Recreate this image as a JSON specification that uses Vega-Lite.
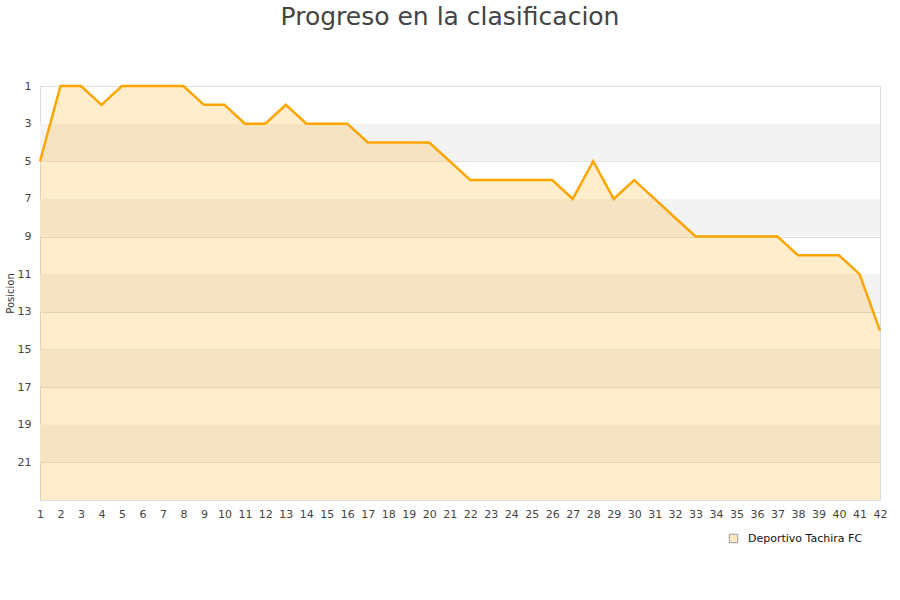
{
  "$schema": "https://vega.github.io/schema/vega-lite/v6.json",
  "autosize": {"type": "none"},
  "width": 840,
  "height": 414,
  "padding": {"left": 40, "top": 86, "right": 20, "bottom": 100},
  "background": "white",
  "title": {
    "text": "Progreso en la clasificacion",
    "fontSize": 25,
    "font": "DejaVu Sans",
    "fontWeight": "normal",
    "color": "#444444",
    "anchor": "middle",
    "offset": 50,
    "dx": -10
  },
  "datasets": {
    "bands": [
      {"from": 3, "to": 5},
      {"from": 7, "to": 9},
      {"from": 11, "to": 13},
      {"from": 15, "to": 17},
      {"from": 19, "to": 21}
    ],
    "positions": [
      {"jornada": 1, "posicion": 5, "equipo": "Deportivo Tachira FC"},
      {"jornada": 2, "posicion": 1, "equipo": "Deportivo Tachira FC"},
      {"jornada": 3, "posicion": 1, "equipo": "Deportivo Tachira FC"},
      {"jornada": 4, "posicion": 2, "equipo": "Deportivo Tachira FC"},
      {"jornada": 5, "posicion": 1, "equipo": "Deportivo Tachira FC"},
      {"jornada": 6, "posicion": 1, "equipo": "Deportivo Tachira FC"},
      {"jornada": 7, "posicion": 1, "equipo": "Deportivo Tachira FC"},
      {"jornada": 8, "posicion": 1, "equipo": "Deportivo Tachira FC"},
      {"jornada": 9, "posicion": 2, "equipo": "Deportivo Tachira FC"},
      {"jornada": 10, "posicion": 2, "equipo": "Deportivo Tachira FC"},
      {"jornada": 11, "posicion": 3, "equipo": "Deportivo Tachira FC"},
      {"jornada": 12, "posicion": 3, "equipo": "Deportivo Tachira FC"},
      {"jornada": 13, "posicion": 2, "equipo": "Deportivo Tachira FC"},
      {"jornada": 14, "posicion": 3, "equipo": "Deportivo Tachira FC"},
      {"jornada": 15, "posicion": 3, "equipo": "Deportivo Tachira FC"},
      {"jornada": 16, "posicion": 3, "equipo": "Deportivo Tachira FC"},
      {"jornada": 17, "posicion": 4, "equipo": "Deportivo Tachira FC"},
      {"jornada": 18, "posicion": 4, "equipo": "Deportivo Tachira FC"},
      {"jornada": 19, "posicion": 4, "equipo": "Deportivo Tachira FC"},
      {"jornada": 20, "posicion": 4, "equipo": "Deportivo Tachira FC"},
      {"jornada": 21, "posicion": 5, "equipo": "Deportivo Tachira FC"},
      {"jornada": 22, "posicion": 6, "equipo": "Deportivo Tachira FC"},
      {"jornada": 23, "posicion": 6, "equipo": "Deportivo Tachira FC"},
      {"jornada": 24, "posicion": 6, "equipo": "Deportivo Tachira FC"},
      {"jornada": 25, "posicion": 6, "equipo": "Deportivo Tachira FC"},
      {"jornada": 26, "posicion": 6, "equipo": "Deportivo Tachira FC"},
      {"jornada": 27, "posicion": 7, "equipo": "Deportivo Tachira FC"},
      {"jornada": 28, "posicion": 5, "equipo": "Deportivo Tachira FC"},
      {"jornada": 29, "posicion": 7, "equipo": "Deportivo Tachira FC"},
      {"jornada": 30, "posicion": 6, "equipo": "Deportivo Tachira FC"},
      {"jornada": 31, "posicion": 7, "equipo": "Deportivo Tachira FC"},
      {"jornada": 32, "posicion": 8, "equipo": "Deportivo Tachira FC"},
      {"jornada": 33, "posicion": 9, "equipo": "Deportivo Tachira FC"},
      {"jornada": 34, "posicion": 9, "equipo": "Deportivo Tachira FC"},
      {"jornada": 35, "posicion": 9, "equipo": "Deportivo Tachira FC"},
      {"jornada": 36, "posicion": 9, "equipo": "Deportivo Tachira FC"},
      {"jornada": 37, "posicion": 9, "equipo": "Deportivo Tachira FC"},
      {"jornada": 38, "posicion": 10, "equipo": "Deportivo Tachira FC"},
      {"jornada": 39, "posicion": 10, "equipo": "Deportivo Tachira FC"},
      {"jornada": 40, "posicion": 10, "equipo": "Deportivo Tachira FC"},
      {"jornada": 41, "posicion": 11, "equipo": "Deportivo Tachira FC"},
      {"jornada": 42, "posicion": 14, "equipo": "Deportivo Tachira FC"}
    ]
  },
  "layer": [
    {
      "data": {"name": "bands"},
      "mark": {"type": "rect", "color": "#f3f3f3"},
      "encoding": {
        "y": {
          "field": "from",
          "type": "quantitative",
          "title": "Posicion",
          "scale": {"domain": [1, 23], "reverse": true, "nice": false, "zero": false},
          "axis": {
            "values": [1, 3, 5, 7, 9, 11, 13, 15, 17, 19, 21],
            "grid": true,
            "gridColor": "#dddddd",
            "ticks": false,
            "domain": false,
            "labelPadding": 9,
            "labelFontSize": 11,
            "labelFont": "DejaVu Sans",
            "labelColor": "#444444",
            "labelFlush": false,
            "titleFont": "DejaVu Sans",
            "titleFontSize": 10,
            "titleFontWeight": "normal",
            "titleColor": "#333333",
            "titlePadding": 2
          }
        },
        "y2": {"field": "to"}
      }
    },
    {
      "data": {"name": "positions"},
      "encoding": {
        "x": {
          "field": "jornada",
          "type": "quantitative",
          "title": null,
          "scale": {"domain": [1, 42], "nice": false, "zero": false},
          "axis": {
            "values": [1, 2, 3, 4, 5, 6, 7, 8, 9, 10, 11, 12, 13, 14, 15, 16, 17, 18, 19, 20, 21, 22, 23, 24, 25, 26, 27, 28, 29, 30, 31, 32, 33, 34, 35, 36, 37, 38, 39, 40, 41, 42],
            "grid": false,
            "ticks": false,
            "domain": false,
            "labelPadding": 8,
            "labelFontSize": 11,
            "labelFont": "DejaVu Sans",
            "labelColor": "#444444",
            "labelOverlap": false,
            "labelFlush": false
          }
        },
        "y": {
          "field": "posicion",
          "type": "quantitative",
          "title": "Posicion",
          "scale": {"domain": [1, 23], "reverse": true, "nice": false, "zero": false},
          "axis": {
            "values": [1, 3, 5, 7, 9, 11, 13, 15, 17, 19, 21],
            "grid": true,
            "gridColor": "#dddddd",
            "ticks": false,
            "domain": false,
            "labelPadding": 9,
            "labelFontSize": 11,
            "labelFont": "DejaVu Sans",
            "labelColor": "#444444",
            "labelFlush": false,
            "titleFont": "DejaVu Sans",
            "titleFontSize": 10,
            "titleFontWeight": "normal",
            "titleColor": "#333333",
            "titlePadding": 2
          }
        }
      },
      "layer": [
        {
          "mark": {"type": "area", "fillOpacity": 0.2, "interpolate": "linear"},
          "encoding": {
            "y2": {"datum": 23},
            "fill": {
              "field": "equipo",
              "type": "nominal",
              "scale": {"range": ["#FFA500"]},
              "legend": {
                "title": null,
                "orient": "none",
                "legendX": 688,
                "legendY": 447,
                "symbolType": "square",
                "symbolSize": 70,
                "symbolStrokeColor": "#999999",
                "symbolStrokeWidth": 1,
                "labelOffset": 9,
                "labelFont": "DejaVu Sans",
                "labelFontSize": 11,
                "labelColor": "#111111",
                "encode": {
                  "symbols": {"update": {"fillOpacity": {"value": 0.25}, "stroke": {"value": "#999999"}, "strokeWidth": {"value": 1}, "strokeOpacity": {"value": 1}}}
                }
              }
            }
          }
        },
        {
          "mark": {"type": "line", "color": "#FFA500", "strokeWidth": 2.5}
        }
      ]
    }
  ],
  "config": {
    "view": {"stroke": "#dddddd"}
  }
}
